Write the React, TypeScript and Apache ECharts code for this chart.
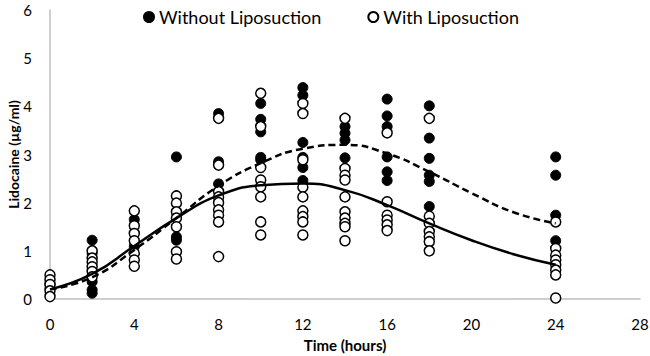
import React, { useEffect, useRef } from "react";
import * as echarts from "echarts";

const times = [0, 2, 4, 6, 8, 10, 12, 14, 16, 18, 24];

const withoutLipo: number[][] = [
  [0.22, 0.3],
  [1.22, 0.95, 0.36, 0.19, 0.12],
  [1.65, 1.09],
  [2.95, 1.29, 1.22],
  [3.85, 2.85, 2.39],
  [4.06, 3.73, 3.47, 2.94, 2.89],
  [4.39, 4.23, 3.25, 2.94, 2.73, 2.46],
  [3.58, 3.44, 3.3, 2.93],
  [4.15, 3.8, 3.58, 2.95, 2.64, 2.46],
  [4.01, 3.34, 2.92, 2.57, 2.44, 1.92],
  [2.95, 2.57, 1.74, 1.21],
];

const withLipo: number[][] = [
  [0.5, 0.4, 0.3, 0.17, 0.05],
  [1.0, 0.85, 0.77, 0.67, 0.57, 0.46],
  [1.83, 1.52, 1.36, 1.21, 0.95, 0.81, 0.68],
  [2.14, 1.99, 1.81, 1.68, 1.5, 0.98, 0.83],
  [3.75, 2.78, 2.23, 2.12, 2.0, 1.85, 1.74, 1.6, 0.88],
  [4.27, 3.58, 2.73, 2.47, 2.33, 2.12, 1.6, 1.33],
  [4.06, 3.85, 2.89, 2.32, 2.12, 1.83, 1.71, 1.6, 1.33],
  [3.75, 2.71, 2.57, 2.47, 2.12, 1.81, 1.68, 1.57, 1.5, 1.21],
  [3.45, 2.02, 1.74, 1.64, 1.54, 1.42],
  [3.75, 1.72, 1.57, 1.4, 1.29, 1.19, 1.0],
  [1.6, 1.05, 0.91, 0.81, 0.71, 0.6, 0.5, 0.02],
];

const curveTimes = [0, 2, 4, 6, 8, 10, 12, 14, 16, 18, 20, 22, 24];
const curveWithout = [0.2, 0.45, 1.02, 1.68, 2.35, 2.82, 3.12, 3.2, 3.02, 2.64, 2.2, 1.8, 1.57];
const curveWith = [0.2, 0.52, 1.1, 1.68, 2.15, 2.36, 2.4, 2.26, 1.95, 1.57, 1.22, 0.93, 0.71];

const xTicks = { min: 0, max: 28, interval: 4 };
const yTicks = { min: 0, max: 6, interval: 1 };

const FONT = "Lato, 'Open Sans', sans-serif";

function toPairs(groups: number[][]) {
  const out: number[][] = [];
  groups.forEach((vals, i) => vals.forEach((v) => out.push([times[i], v])));
  return out;
}

export default function App() {
  const ref = useRef<HTMLDivElement>(null);
  useEffect(() => {
    if (!ref.current) return;
    const chart = echarts.init(ref.current, null, { renderer: "svg" });
    const axisLine = { show: true, lineStyle: { color: "#bfbfbf", width: 1.5 } };
    chart.setOption({
      animation: false,
      textStyle: { fontFamily: FONT },
      grid: { left: 50, right: 10, top: 10, bottom: 57, containLabel: false, outerBoundsMode: "none" },
      legend: {
        top: 3,
        left: 138,
        itemGap: 46,
        itemWidth: 10,
        itemHeight: 10,
        data: [
          { name: "Without Liposuction", icon: "circle" },
          { name: "With Liposuction", icon: "circle" },
        ],
        textStyle: { fontSize: 18, color: "#000", fontFamily: FONT },
      },
      xAxis: {
        type: "value",
        min: xTicks.min,
        max: xTicks.max,
        interval: xTicks.interval,
        axisLine,
        axisTick: { show: false },
        splitLine: { show: false },
        axisLabel: { fontSize: 15, color: "#000", margin: 17, fontFamily: FONT },
        name: "Time (hours)",
        nameLocation: "middle",
        nameGap: 38,
        nameMoveOverlap: false,
        nameTextStyle: { fontSize: 15, fontWeight: "bold", color: "#000", fontFamily: FONT },
      },
      yAxis: {
        type: "value",
        min: yTicks.min,
        max: yTicks.max,
        interval: yTicks.interval,
        axisLine,
        axisTick: { show: false },
        splitLine: { show: false },
        axisLabel: { fontSize: 15, color: "#000", margin: 18, fontFamily: FONT },
        name: "Lidocaine (µg/ml)",
        nameLocation: "middle",
        nameGap: 30,
        nameMoveOverlap: false,
        nameTextStyle: { fontSize: 14, fontWeight: "bold", color: "#000", fontFamily: FONT },
      },
      series: [
        {
          name: "Without Liposuction",
          type: "scatter",
          symbol: "circle",
          symbolSize: 10,
          itemStyle: { color: "#000", borderColor: "#000", borderWidth: 1, opacity: 1 },
          data: toPairs(withoutLipo),
          z: 2,
        },
        {
          name: "With Liposuction",
          type: "scatter",
          symbol: "circle",
          symbolSize: 10,
          itemStyle: { color: "#fff", borderColor: "#000", borderWidth: 1.5, opacity: 1 },
          data: toPairs(withLipo),
          z: 3,
        },
        {
          name: "fitWithout",
          type: "line",
          smooth: true,
          showSymbol: false,
          symbol: "none",
          lineStyle: { color: "#000", width: 2.5, type: [7, 4] },
          data: curveTimes.map((t, i) => [t, curveWithout[i]]),
          z: 4,
        },
        {
          name: "fitWith",
          type: "line",
          smooth: true,
          showSymbol: false,
          symbol: "none",
          lineStyle: { color: "#000", width: 2.5 },
          data: curveTimes.map((t, i) => [t, curveWith[i]]),
          z: 4,
        },
      ],
    });
    return () => chart.dispose();
  }, []);
  return <div ref={ref} style={{ width: 650, height: 356, position: "absolute", left: 0, top: 0 }} />;
}
